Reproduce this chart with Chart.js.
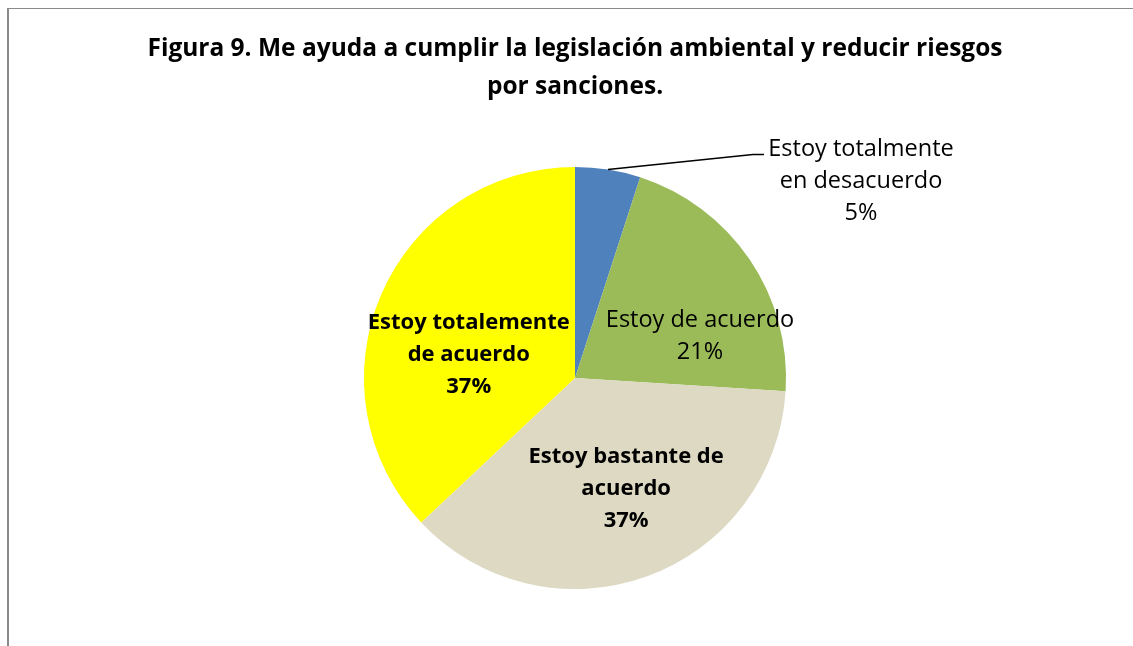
<!DOCTYPE html>
<html>
<head>
<meta charset="utf-8">
<script src="https://cdn.jsdelivr.net/npm/chart.js@4.4.1/dist/chart.umd.min.js"></script>
<style>
  html, body { margin: 0; padding: 0; background: #ffffff; width: 1133px; height: 646px; overflow: hidden; }
  #frame { position: absolute; left: 7px; top: 8px; width: 1200px; height: 700px;
           border-left: 2px solid #8a8a8a; border-top: 1px solid #8a8a8a; }
  #wrap { position: absolute; left: 0; top: 0; width: 1133px; height: 646px; }
</style>
</head>
<body>
<div id="frame"></div>
<div id="wrap"><canvas id="c" width="1133" height="646"></canvas></div>
<script>
const titleLines = ['Figura 9. Me ayuda a cumplir la legislación ambiental y reducir riesgos', 'por sanciones.'];
const categories = ['Estoy totalmente en desacuerdo', 'Estoy de acuerdo', 'Estoy bastante de acuerdo', 'Estoy totalemente de acuerdo'];
const values = [5, 21, 37, 37];
const labelLines = [['Estoy totalmente', 'en desacuerdo'], ['Estoy de acuerdo'], ['Estoy bastante de', 'acuerdo'], ['Estoy totalemente', 'de acuerdo']];
const percentLabels = ['5%', '21%', '37%', '37%'];
const colors = ['#4F81BD', '#9BBB59', '#DDD9C3', '#FFFF00'];

const FONT = '"Open Sans", Lato, sans-serif';

// label placement styles (not data)
const labelStyle = [
  { outside: true, bold: false, elbowDx: 145, elbowDy: -15, tailDx: 11, textDx: 97, textDy: 27 },
  { bold: false, angleShift: 15.6, rFactor: 0.625 },
  { bold: true, angleShift: -4.9, rFactor: 0.58 },
  { bold: true, angleShift: -11.2, rFactor: 0.515 }
];

const labelPlugin = {
  id: 'sliceLabels',
  afterDatasetsDraw(chart) {
    const ctx = chart.ctx;
    const meta = chart.getDatasetMeta(0);
    const lh = 32;
    meta.data.forEach((arc, i) => {
      const st = labelStyle[i];
      const lines = labelLines[i].concat([percentLabels[i]]);
      const mid = (arc.startAngle + arc.endAngle) / 2;
      let cx, cy;
      ctx.save();
      ctx.fillStyle = '#000';
      ctx.font = (st.bold ? 'bold 22px ' : '23.5px ') + FONT;
      ctx.textAlign = 'center';
      ctx.textBaseline = 'middle';
      if (st.outside) {
        const sx = arc.x + Math.cos(mid) * arc.outerRadius;
        const sy = arc.y + Math.sin(mid) * arc.outerRadius;
        const ex = sx + st.elbowDx, ey = sy + st.elbowDy;
        ctx.strokeStyle = '#000';
        ctx.lineWidth = 1.5;
        ctx.beginPath();
        ctx.moveTo(sx, sy);
        ctx.lineTo(ex, ey);
        ctx.lineTo(ex + st.tailDx, ey);
        ctx.stroke();
        cx = ex + st.tailDx + st.textDx;
        cy = ey + st.textDy;
      } else {
        const a = mid + st.angleShift * Math.PI / 180;
        const r = arc.outerRadius * st.rFactor;
        cx = arc.x + Math.cos(a) * r;
        cy = arc.y + Math.sin(a) * r;
      }
      const top = cy - (lines.length - 1) * lh / 2;
      lines.forEach((t, k) => ctx.fillText(t, cx, top + k * lh));
      ctx.restore();
    });
  }
};

new Chart(document.getElementById('c'), {
  type: 'pie',
  data: {
    labels: categories,
    datasets: [{
      data: values,
      backgroundColor: colors,
      borderWidth: 0
    }]
  },
  options: {
    responsive: false,
    animation: false,
    layout: { padding: { left: 17, right: 0, top: 0, bottom: 57 } },
    plugins: {
      legend: { display: false },
      tooltip: { enabled: false },
      title: {
        display: true,
        text: titleLines,
        color: '#000',
        font: { family: FONT, size: 24.5, weight: 'bold', lineHeight: 1.55 },
        padding: { top: 30, bottom: 61 }
      }
    }
  },
  plugins: [labelPlugin]
});
</script>
</body>
</html>
